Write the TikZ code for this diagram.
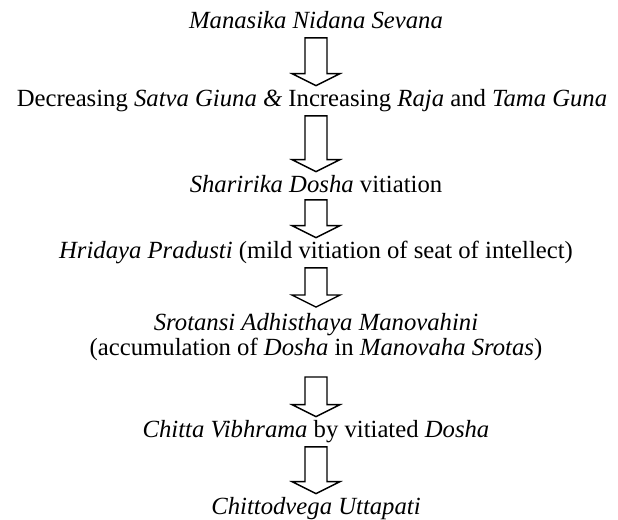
\documentclass[tikz,border=0pt]{standalone}
\usepackage{fontspec}
\setmainfont{Liberation Serif}
\usetikzlibrary{calc}

\tikzset{
  flowpara/.style={inner sep=0pt, align=center, font=\fontsize{12.35pt}{11pt}\selectfont},
  flowtext/.style={flowpara, text height=0.7em, text depth=0.22em},
  hollowarrow/.style={draw=black, line width=0.7pt, line join=miter, fill=white}
}
\newcommand{\flowarrow}[3][5]{%
  \draw[hollowarrow] ($(axis |- #2.south)+(-11,#1)$) -- ($(axis |- #3.north)+(-11,-18)$)
    -- ++(-13,0) -- ($(axis |- #3.north)+(0,-6)$) -- ($(axis |- #3.north)+(24,-18)$)
    -- ++(-13,0) -- ($(axis |- #2.south)+(11,#1)$) -- cycle;}

\begin{document}
\begin{tikzpicture}[x=0.5pt, y=-0.5pt]
  \useasboundingbox (0,0) rectangle (618,520);
  \coordinate (axis) at (316,0);

  \node[flowtext, anchor=base] (nidana) at (316,28) {\textit{Manasika Nidana Sevana}};
  \node[flowtext, anchor=base] (guna) at (312,106)
    {Decreasing \textit{Satva Giuna \&} Increasing \textit{Raja} and \textit{Tama Guna}};
  \node[flowtext, anchor=base] (dosha) at (316,192) {\textit{Sharirika Dosha} vitiation};
  \node[flowtext, anchor=base] (hridaya) at (316,258)
    {\textit{Hridaya Pradusti} (mild vitiation of seat of intellect)};
  \node[flowpara] (srotas) at (316,337)
    {\textit{Srotansi Adhisthaya Manovahini}\\(accumulation of \textit{Dosha} in \textit{Manovaha Srotas})};
  \node[flowtext, anchor=base] (chitta) at (316,437) {\textit{Chitta Vibhrama} by vitiated \textit{Dosha}};
  \node[flowtext, anchor=base] (udvega) at (316,514) {\textit{Chittodvega Uttapati}};

  \flowarrow{nidana}{guna}
  \flowarrow{guna}{dosha}
  \flowarrow[3]{dosha}{hridaya}
  \flowarrow{hridaya}{srotas}
  \flowarrow[16]{srotas}{chitta}
  \flowarrow{chitta}{udvega}
\end{tikzpicture}
\end{document}
